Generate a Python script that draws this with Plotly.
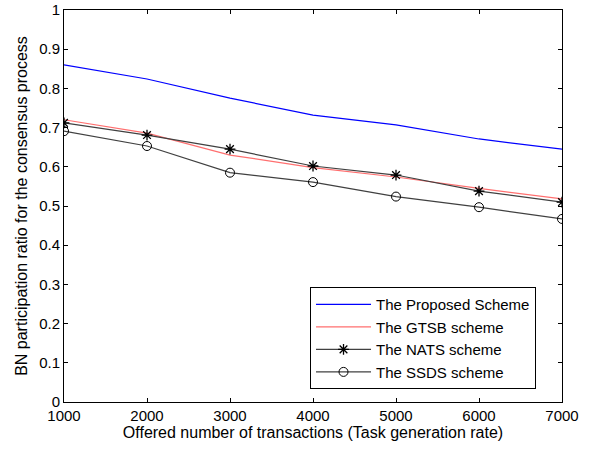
import plotly.graph_objects as go

x_vals = [1000, 2000, 3000, 4000, 5000, 6000, 7000]
proposed = [0.860, 0.824, 0.775, 0.732, 0.707, 0.671, 0.645]
gtsb = [0.720, 0.686, 0.630, 0.598, 0.574, 0.545, 0.518]
nats = [0.712, 0.681, 0.645, 0.602, 0.579, 0.538, 0.510]
ssds = [0.691, 0.653, 0.585, 0.561, 0.524, 0.497, 0.467]

x_ticks = [1000, 2000, 3000, 4000, 5000, 6000, 7000]
y_ticks = [0, 0.1, 0.2, 0.3, 0.4, 0.5, 0.6, 0.7, 0.8, 0.9, 1]
y_tick_text = ["0", "0.1", "0.2", "0.3", "0.4", "0.5", "0.6", "0.7", "0.8", "0.9", "1"]

FONT = "Liberation Sans, Arial, sans-serif"

fig = go.Figure()
fig.add_trace(go.Scatter(x=x_vals, y=proposed, mode="lines", name="The Proposed Scheme",
                         line=dict(color="#0000ff", width=1.2)))
fig.add_trace(go.Scatter(x=x_vals, y=gtsb, mode="lines", name="The GTSB scheme",
                         line=dict(color="#ff6f6f", width=1.2)))
fig.add_trace(go.Scatter(x=x_vals, y=nats, mode="lines+markers", name="The NATS scheme",
                         line=dict(color="#404040", width=1.2),
                         marker=dict(symbol="asterisk-open", size=9, color="black",
                                     line=dict(color="black", width=1.3))))
fig.add_trace(go.Scatter(x=x_vals, y=ssds, mode="lines+markers", name="The SSDS scheme",
                         line=dict(color="#404040", width=1.2),
                         marker=dict(symbol="circle-open", size=9, color="black",
                                     line=dict(color="black", width=1))))

axis_common = dict(showgrid=False, zeroline=False, showline=True, linecolor="black",
                   linewidth=1, mirror="ticks", ticks="inside", ticklen=4,
                   tickcolor="black", automargin=False, ticklabeloverflow="allow",
                   tickfont=dict(family=FONT, size=15, color="black"))

fig.update_layout(
    width=589, height=449,
    margin=dict(l=64, r=27, t=10, b=47),
    paper_bgcolor="white", plot_bgcolor="white",
    font=dict(family=FONT, size=15, color="black"),
    xaxis=dict(range=[1000, 7000], tickvals=x_ticks, ticktext=[str(v) for v in x_ticks],
               title=dict(text="Offered number of transactions (Task generation rate)",
                          standoff=0, font=dict(size=16)),
               **axis_common),
    yaxis=dict(range=[0, 1], tickvals=y_ticks, ticktext=y_tick_text,
               title=dict(text="BN participation ratio for the consensus process",
                          standoff=7, font=dict(size=16)),
               **axis_common),
    legend=dict(x=0.494, y=0.293, xanchor="left", yanchor="top", bgcolor="white",
                bordercolor="black", borderwidth=1, font=dict(family=FONT, size=15),
                tracegroupgap=0, itemwidth=55),
    showlegend=True,
)

# remove the default 8px page margin so the figure fills the window exactly
fig.write_html("out.html", config={"displayModeBar": False},
               post_script="document.body.style.margin='0px';")
